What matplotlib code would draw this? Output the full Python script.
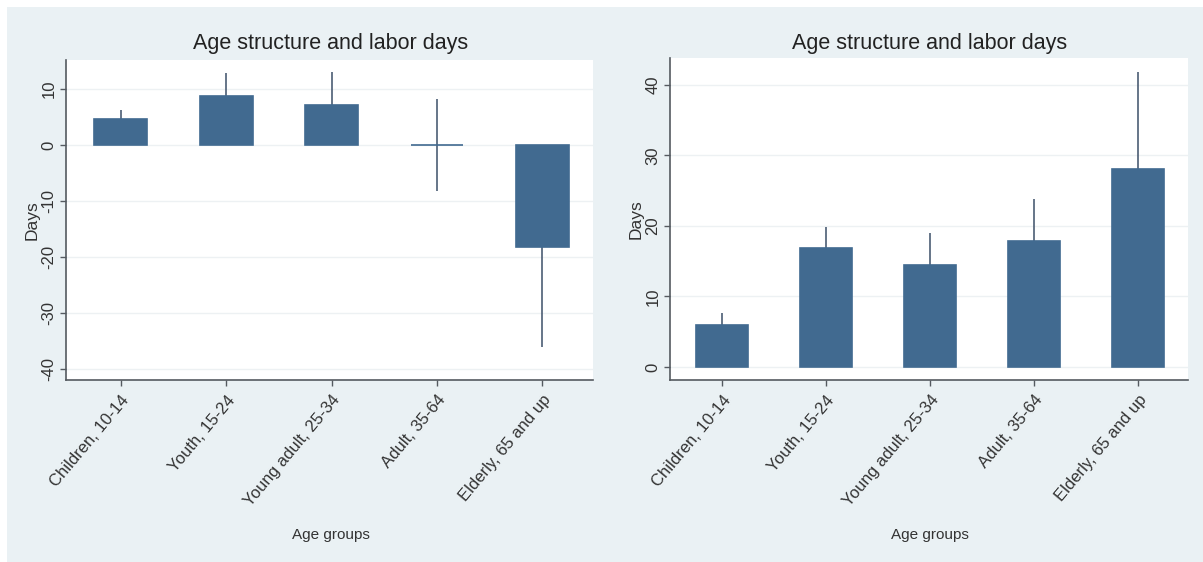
import numpy as np
import matplotlib
matplotlib.use("Agg")
import matplotlib.pyplot as plt
from matplotlib.patches import Rectangle

# data
age_groups = [
    "Children, 10-14",
    "Youth, 15-24",
    "Young adult, 25-34",
    "Adult, 35-64",
    "Elderly, 65 and up",
]
left_means = [4.6, 8.8, 7.1, 0.0, -18.2]
left_errs = [1.6, 4.0, 5.9, 8.3, 17.9]
left_ticks = [10, 0, -10, -20, -30, -40]

right_means = [6.0, 16.9, 14.5, 17.8, 28.0]
right_errs = [1.6, 2.9, 4.5, 6.0, 13.8]
right_ticks = [0, 10, 20, 30, 40]

title = "Age structure and labor days"
xlabel = "Age groups"
ylabel = "Days"

BG = "#eaf1f4"
BAR = "#416a90"
ERR = "#4c5d74"
AXIS = "#555a60"

plt.rcParams["font.family"] = ["Liberation Sans", "DejaVu Sans"]


def draw_panel(fig, rect, means, errs, ticks, ylim, xlim, title_x, ylabel_x):
    ax = fig.add_axes(rect)
    ax.set_facecolor("white")
    x = np.arange(len(means))
    ax.set_axisbelow(True)
    ax.yaxis.grid(True, color="#edf1f3", linewidth=1.0)
    # error lines go behind the bars, like the stata output
    ax.vlines(x, np.array(means) - np.array(errs), np.array(means) + np.array(errs),
              color=ERR, linewidth=1.2, zorder=2)
    ax.bar(x, means, width=0.5, color=BAR, edgecolor=BAR, linewidth=1.2, zorder=3)

    ax.set_xlim(*xlim)
    ax.set_ylim(*ylim)
    ax.set_yticks(ticks)
    ax.set_yticklabels([str(t) for t in ticks], rotation=90, va="center", fontsize=12,
                       color="#333333")
    ax.set_xticks(x)
    ax.set_xticklabels(age_groups, rotation=50, ha="right", rotation_mode="anchor",
                       fontsize=12, color="#333333")
    ax.tick_params(axis="both", length=4, width=1, color=AXIS, pad=5)
    ax.tick_params(axis="y", pad=3)

    for side in ["top", "right"]:
        ax.spines[side].set_visible(False)
    for side in ["left", "bottom"]:
        ax.spines[side].set_color(AXIS)
        ax.spines[side].set_linewidth(1.2)

    fig.text(title_x, 1 - 44 / 562, title, ha="center", va="center", fontsize=15.5,
             color="#222222")
    fig.text(title_x, 1 - 535 / 562, xlabel, ha="center", va="center", fontsize=11,
             color="#333333")
    fig.text(ylabel_x, rect[1] + rect[3] / 2, ylabel, ha="center", va="center",
             rotation=90, fontsize=12.5, color="#333333")
    return ax


fig = plt.figure(figsize=(12.03, 5.62), dpi=100, facecolor="white")
fig.patches.append(Rectangle((7 / 1203, 0), 1, 1 - 7 / 562, transform=fig.transFigure,
                             facecolor=BG, edgecolor="none", zorder=-10))

draw_panel(fig, [66 / 1203, 1 - 380 / 562, 527 / 1203, 320 / 562],
           left_means, left_errs, left_ticks, (-42.0, 15.2), (-0.52, 4.48),
           331 / 1203, 32 / 1203)
draw_panel(fig, [670 / 1203, 1 - 380 / 562, 518 / 1203, 322 / 562],
           right_means, right_errs, right_ticks, (-1.84, 43.8), (-0.50, 4.48),
           930 / 1203, 636 / 1203)

fig.savefig("out.png", dpi=100, facecolor=fig.get_facecolor())
